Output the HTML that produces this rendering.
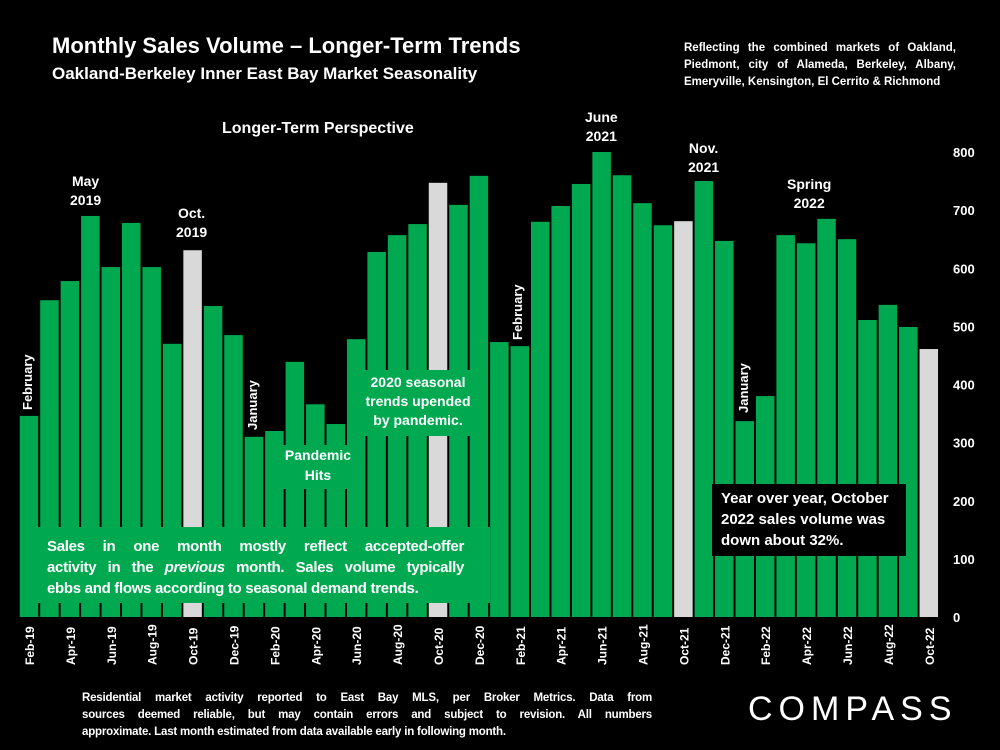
<!DOCTYPE html>
<html><head><meta charset="utf-8">
<style>
body{margin:0;background:#000;width:1000px;height:750px;overflow:hidden;font-family:"Liberation Sans",sans-serif;color:#fff}
.t{position:absolute;font-weight:bold;color:#fff}
.j{text-align:justify;text-align-last:justify;white-space:nowrap;display:block}
.l{display:block;white-space:nowrap}
</style></head><body>
<div class="t" style="left:52px;top:33px;font-size:22px">Monthly Sales Volume – Longer-Term Trends</div>
<div class="t" style="left:52px;top:64px;font-size:17px">Oakland-Berkeley Inner East Bay Market Seasonality</div>
<div class="t" style="left:684px;top:40px;font-size:11.5px;line-height:17px;width:272px;text-align:justify">Reflecting the combined markets of Oakland, Piedmont, city of Alameda, Berkeley, Albany, Emeryville, Kensington, El Cerrito &amp; Richmond</div>
<div class="t" style="left:82px;top:690px;font-size:11.5px;line-height:17px;width:570px;letter-spacing:-0.2px"><span class="j">Residential market activity reported to East Bay MLS, per Broker Metrics. Data from</span><span class="j">sources deemed reliable, but may contain errors and subject to revision. All numbers</span><span class="l">approximate. Last month estimated from data available early in following month.</span></div>
<div style="position:absolute;left:748px;top:690px;font-size:34px;letter-spacing:6px;color:#fff">COMPASS</div>
<svg id="c" width="1000" height="750" style="position:absolute;left:0;top:0"></svg>
<script>
const months=["Feb-19","Mar-19","Apr-19","May-19","Jun-19","Jul-19","Aug-19","Sep-19","Oct-19","Nov-19","Dec-19","Jan-20","Feb-20","Mar-20","Apr-20","May-20","Jun-20","Jul-20","Aug-20","Sep-20","Oct-20","Nov-20","Dec-20","Jan-21","Feb-21","Mar-21","Apr-21","May-21","Jun-21","Jul-21","Aug-21","Sep-21","Oct-21","Nov-21","Dec-21","Jan-22","Feb-22","Mar-22","Apr-22","May-22","Jun-22","Jul-22","Aug-22","Sep-22","Oct-22"];
const sales=[346,545,578,690,602,678,602,470,631,535,485,310,320,439,366,332,478,628,657,676,747,709,759,473,466,680,707,745,800,760,712,674,681,750,647,337,380,657,643,685,650,511,537,499,461];
const highlighted=["Oct-19","Oct-20","Oct-21","Oct-22"];
const yTicks=[0,100,200,300,400,500,600,700,800];
const NS="http://www.w3.org/2000/svg";
const svg=document.getElementById('c');
const y0=617,yTop=152,yMax=800;
const y=v=>y0-(v/yMax)*(y0-yTop);
const x0=29,pitch=20.45,bw=18.5;
const x=i=>x0+i*pitch;
function mk(t,a){const e=document.createElementNS(NS,t);for(const k in a)e.setAttribute(k,a[k]);svg.appendChild(e);return e;}
months.forEach((m,i)=>{
  const r=mk('rect',{x:x(i)-bw/2,y:y(sales[i]),width:bw,height:y0-y(sales[i]),fill:highlighted.includes(m)?'#d9d9d9':'#00a94f'});
  
  
  if(i%2===0){
    const t=mk('text',{transform:`translate(${x(i)+5},${y0+48}) rotate(-90)`,'font-size':12,'font-weight':'bold',fill:'#fff','font-family':'Liberation Sans'});
    t.textContent=m;
    
    
  }
});
yTicks.forEach(v=>{
  const t=mk('text',{x:953,y:y(v)+5,'font-size':13,'font-weight':'bold',fill:'#fff','font-family':'Liberation Sans'});
  t.textContent=v;
  
  
});
</script>
<div style="position:absolute;left:20px;top:527px;width:470px;height:76px;background:#00a94f"></div>
<div class="t" style="left:47px;top:536px;width:417px;font-size:15px;line-height:21px;letter-spacing:-0.3px"><span class="j">Sales in one month mostly reflect accepted-offer</span><span class="j">activity in the <i>previous</i> month. Sales volume typically</span><span class="l">ebbs and flows according to seasonal demand trends.</span></div>
<div class="t" style="left:362px;top:370px;width:112px;height:66px;background:#00a94f;font-size:14px;line-height:19px;text-align:center;padding-top:3px;box-sizing:border-box">2020 seasonal trends upended by pandemic.</div>
<div class="t" style="left:282px;top:445px;width:72px;height:44px;background:#00a94f;font-size:14px;line-height:20px;text-align:center">Pandemic Hits</div>
<div class="t" style="left:712px;top:484px;width:194px;height:72px;background:#000;font-size:15px;line-height:21px;padding:4px 9px;box-sizing:border-box">Year over year, October 2022 sales volume was down about 32%.</div>
<div class="t" style="left:222px;top:120px;font-size:16px">Longer-Term Perspective</div>
<div class="t" style="left:70px;top:172px;font-size:14px;line-height:19px;text-align:center">May<br>2019</div>
<div class="t" style="left:176px;top:204px;font-size:14px;line-height:19px;text-align:center">Oct.<br>2019</div>
<div class="t" style="left:585px;top:108px;font-size:14px;line-height:19px;text-align:center">June<br>2021</div>
<div class="t" style="left:688px;top:139px;font-size:14px;line-height:19px;text-align:center">Nov.<br>2021</div>
<div class="t" style="left:787px;top:175px;font-size:14px;line-height:19px;text-align:center">Spring<br>2022</div>
<div class="t" style="left:20px;top:410px;font-size:13px;transform:rotate(-90deg);transform-origin:0 0">February</div>
<div class="t" style="left:245px;top:430px;font-size:13px;transform:rotate(-90deg);transform-origin:0 0">January</div>
<div class="t" style="left:510px;top:340px;font-size:13px;transform:rotate(-90deg);transform-origin:0 0">February</div>
<div class="t" style="left:736px;top:413px;font-size:13px;transform:rotate(-90deg);transform-origin:0 0">January</div>
</body></html>
